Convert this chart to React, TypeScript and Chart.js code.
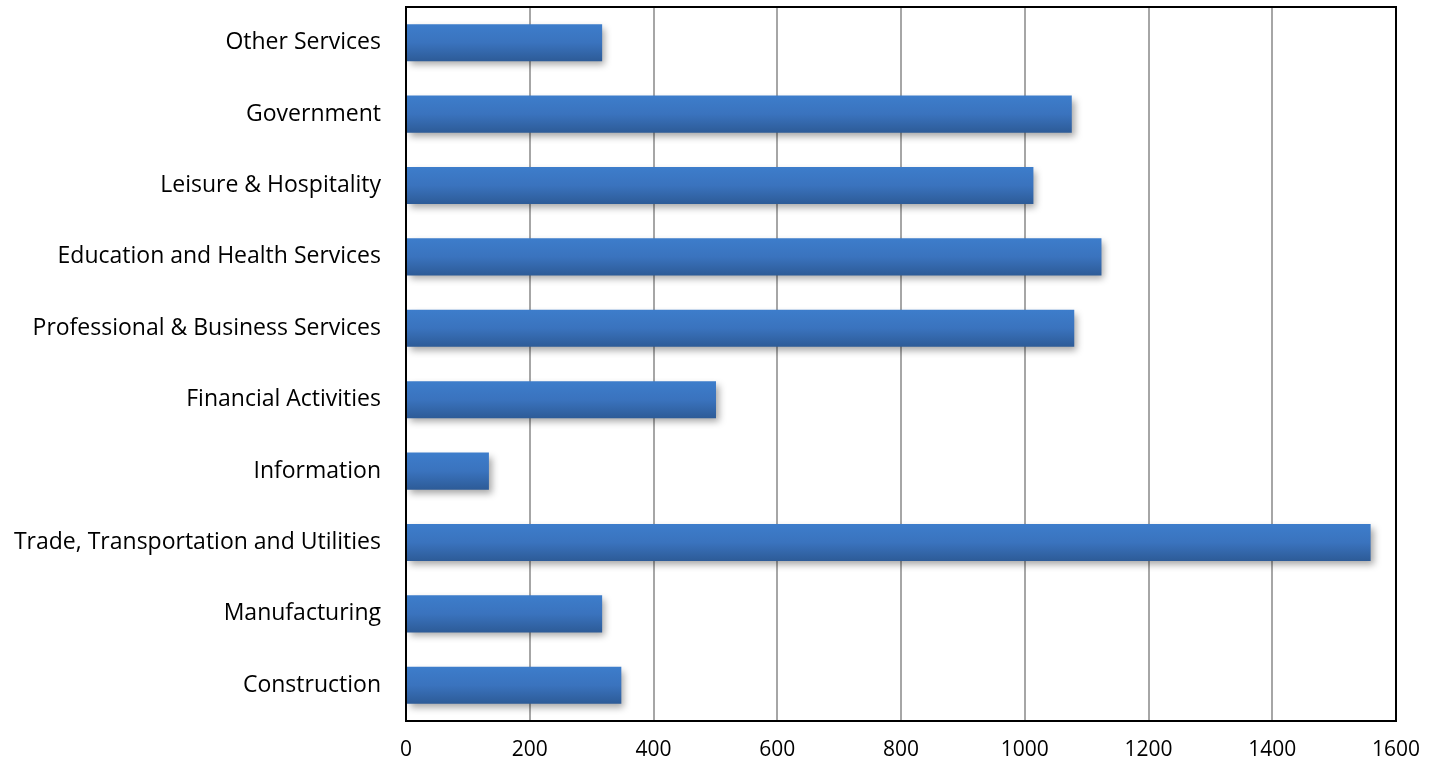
import React, { useEffect, useRef } from "react";
import { Chart, registerables } from "chart.js";

Chart.register(...registerables);

const categories = [
  "Other Services",
  "Government",
  "Leisure & Hospitality",
  "Education and Health Services",
  "Professional & Business Services",
  "Financial Activities",
  "Information",
  "Trade, Transportation and Utilities",
  "Manufacturing",
  "Construction",
];
const values = [317, 1076, 1014, 1124, 1080, 501, 134, 1559, 317, 348];
const xMin = 0;
const xMax = 1600;
const xStep = 200;

const FONT = "'Open Sans', Lato, sans-serif";

const shadowPlugin = {
  id: "barShadow",
  beforeDatasetDraw(chart: any) {
    const ctx = chart.ctx;
    ctx.save();
    ctx.shadowColor = "rgba(0,0,0,0.35)";
    ctx.shadowBlur = 7;
    ctx.shadowOffsetX = 3;
    ctx.shadowOffsetY = 4;
  },
  afterDatasetDraw(chart: any) {
    chart.ctx.restore();
  },
};

const framePlugin = {
  id: "frame",
  afterDraw(chart: any) {
    const { ctx, chartArea } = chart;
    ctx.save();
    ctx.strokeStyle = "#000";
    ctx.lineWidth = 2;
    ctx.strokeRect(chartArea.left, chartArea.top, chartArea.right - chartArea.left, chartArea.bottom - chartArea.top);
    ctx.restore();
  },
};

export default function App() {
  const ref = useRef<HTMLCanvasElement>(null);
  useEffect(() => {
    if (!ref.current) return;
    const chart = new Chart(ref.current, {
      type: "bar",
      data: {
        labels: categories,
        datasets: [
          {
            data: values,
            barPercentage: 0.52,
            categoryPercentage: 1,
            borderWidth: 0,
            backgroundColor: (c: any) => {
              const ch = c.chart;
              const ys = ch.scales && ch.scales.y;
              if (!ys || !ch.chartArea || c.dataIndex === undefined) return "#3A72BD";
              const yc = ys.getPixelForValue(c.dataIndex);
              const band = (ch.chartArea.bottom - ch.chartArea.top) / categories.length;
              const h = band * 0.52;
              const g = ch.ctx.createLinearGradient(0, yc - h / 2, 0, yc + h / 2);
              g.addColorStop(0, "#3D7DCB");
              g.addColorStop(0.5, "#3A73BE");
              g.addColorStop(1, "#2D5B97");
              return g;
            },
          },
        ],
      },
      options: {
        indexAxis: "y",
        animation: false,
        responsive: true,
        maintainAspectRatio: false,
        layout: { padding: { top: 7, right: 42, left: 0, bottom: 0 } },
        plugins: { legend: { display: false }, tooltip: { enabled: false } },
        scales: {
          x: {
            min: xMin,
            max: xMax,
            ticks: {
              stepSize: xStep,
              color: "#000",
              font: { family: FONT, size: 21 },
              padding: 16,
              maxRotation: 0,
              callback: (v: any) => String(v),
            },
            grid: { color: "#A6A6A6", lineWidth: 2, drawTicks: false },
            border: { display: false },
            afterFit: (s: any) => {
              s.height = 43;
              s.paddingLeft = 0;
              s.paddingRight = 0;
            },
          },
          y: {
            ticks: { color: "#000", font: { family: FONT, size: 23 }, padding: 25 },
            grid: { display: false, drawTicks: false },
            border: { display: false },
            afterFit: (s: any) => {
              s.width = 406;
              s.paddingTop = 0;
              s.paddingBottom = 0;
            },
          },
        },
      },
      plugins: [shadowPlugin, framePlugin],
    });
    return () => chart.destroy();
  }, []);
  return (
    <div style={{ position: "fixed", left: 0, top: 0, width: 1438, height: 764, background: "#fff" }}>
      <canvas ref={ref} />
    </div>
  );
}
